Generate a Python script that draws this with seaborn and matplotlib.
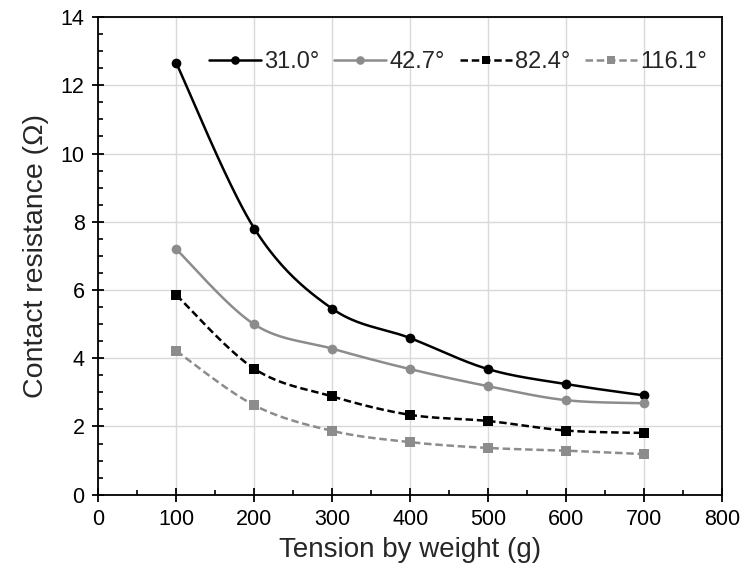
import numpy as np
import pandas as pd
import matplotlib
matplotlib.use("Agg")
import matplotlib.pyplot as plt
from matplotlib.lines import Line2D
from matplotlib.ticker import MultipleLocator
import seaborn as sns

# ---- data ----
tension = [100, 200, 300, 400, 500, 600, 700]
angles = ["31.0°", "42.7°", "82.4°", "116.1°"]
r_31_0 = [12.64, 7.80, 5.45, 4.59, 3.68, 3.24, 2.91]
r_42_7 = [7.19, 4.99, 4.28, 3.68, 3.18, 2.77, 2.68]
r_82_4 = [5.85, 3.69, 2.88, 2.34, 2.16, 1.88, 1.81]
r_116_1 = [4.21, 2.62, 1.87, 1.54, 1.37, 1.29, 1.19]
series = [r_31_0, r_42_7, r_82_4, r_116_1]

colors = ["#000000", "#8c8c8c", "#000000", "#8c8c8c"]
markers = ["o", "o", "s", "s"]
styles = ["-", "-", (0, (3, 1.5)), (0, (3, 1.5))]

sns.set_theme(style="ticks")
plt.rcParams["font.family"] = ["Liberation Sans", "DejaVu Sans"]


def smooth(xs, ys, n=40):
    """Excel-like smoothed line (Catmull-Rom Bezier) through the data points."""
    xs = np.asarray(xs, float)
    ys = np.asarray(ys, float)
    P = np.column_stack([xs, ys])
    out = []
    m = len(P)
    for i in range(m - 1):
        p0 = P[i - 1] if i > 0 else P[i]
        p1 = P[i]
        p2 = P[i + 1]
        p3 = P[i + 2] if i + 2 < m else P[i + 1]
        c1 = p1 + (p2 - p0) / 6.0
        c2 = p2 - (p3 - p1) / 6.0
        t = np.linspace(0, 1, n, endpoint=(i == m - 2))[:, None]
        b = ((1 - t) ** 3) * p1 + 3 * ((1 - t) ** 2) * t * c1 + 3 * (1 - t) * t ** 2 * c2 + t ** 3 * p2
        out.append(b)
    B = np.vstack(out)
    return B[:, 0], B[:, 1]


fig = plt.figure(figsize=(7.45, 5.79), dpi=100)
ax = fig.add_axes([0.1322, 0.1456, 0.8368, 0.825])

LW = 1.8
handles = []
for lab, ys, c, mk, ls in zip(angles, series, colors, markers, styles):
    sx, sy = smooth(tension, ys)
    df = pd.DataFrame({"x": sx, "y": sy})
    sns.lineplot(data=df, x="x", y="y", ax=ax, color=c, linewidth=LW,
                 linestyle=ls, sort=False, estimator=None, legend=False)
    ms = 7.0
    ax.plot(tension, ys, linestyle="none", marker=mk, color=c,
            markersize=ms, markeredgewidth=0, zorder=5)
    handles.append(Line2D([0], [0], color=c, linewidth=LW, linestyle=ls,
                          marker=mk, markersize=6.2, markeredgewidth=0,
                          label=lab))

ax.set_xlim(0, 800)
ax.set_ylim(0, 14)
ax.xaxis.set_major_locator(MultipleLocator(100))
ax.xaxis.set_minor_locator(MultipleLocator(50))
ax.yaxis.set_major_locator(MultipleLocator(2))
ax.yaxis.set_minor_locator(MultipleLocator(0.5))

ax.grid(True, which="major", color="#d9d9d9", linewidth=1.0)
ax.set_axisbelow(True)

for s in ax.spines.values():
    s.set_visible(True)
    s.set_color("black")
    s.set_linewidth(1.3)

ax.tick_params(axis="x", which="major", direction="inout", length=10, width=1.3,
               labelsize=15.5, colors="black", pad=5)
ax.tick_params(axis="y", which="major", direction="inout", length=8, width=1.3,
               labelsize=15.5, colors="black", pad=6)
ax.tick_params(which="minor", direction="in", length=3.5, width=1.2, colors="black")
ax.tick_params(axis="x", which="both", top=False)
ax.tick_params(axis="y", which="both", right=False)

ax.set_xlabel("Tension by weight (g)", fontsize=20, labelpad=5)
ax.set_ylabel("Contact resistance (Ω)", fontsize=20.5, labelpad=8)

ax.legend(handles=handles, loc="center right", ncol=4, frameon=False,
          fontsize=17, handlelength=2.2, handletextpad=0.13,
          columnspacing=0.64, bbox_to_anchor=(0.976, 0.905),
          borderaxespad=0, borderpad=0)

fig.savefig("out.png", dpi=100)
